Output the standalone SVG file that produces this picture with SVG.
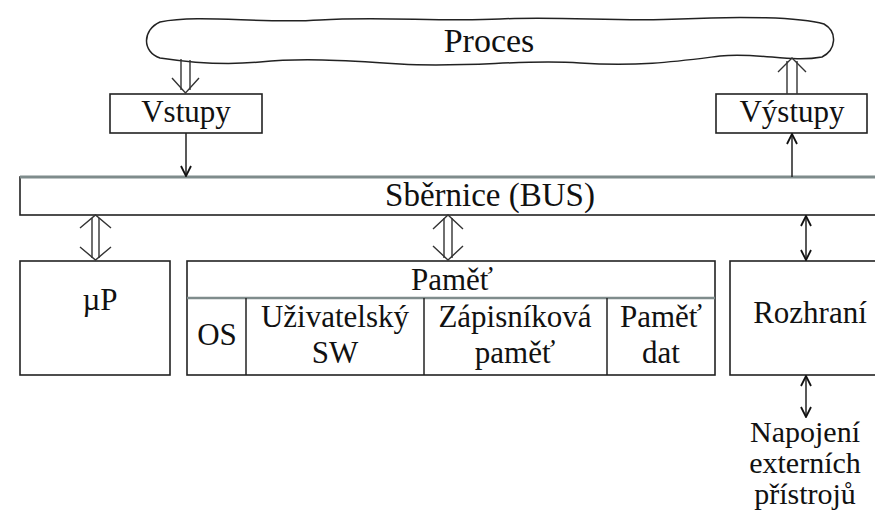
<svg xmlns="http://www.w3.org/2000/svg" width="875" height="515" viewBox="0 0 875 515">
<style>
.box{fill:#fff;stroke:#222;stroke-width:1.6}
.ln{fill:none;stroke:#222;stroke-width:1.5}
.hol{fill:none;stroke:#333;stroke-width:1.4}
</style>
<defs>
<marker id="ah" viewBox="0 0 12 12" refX="11" refY="6" markerWidth="12" markerHeight="12" markerUnits="userSpaceOnUse" orient="auto-start-reverse">
<path d="M1,1 L11,6 L1,11" fill="none" stroke="#111" stroke-width="1.8"/>
</marker>
</defs>
<rect width="875" height="515" fill="#fff"/>

<g id="proces">
<path class="ln" d="M160 22 C200 14,260 24,320 20 C380 16,440 22,500 19 C560 16,620 22,680 19 C740 16,800 17,824 24 C838 32,836 50,822 57 C790 63,760 52,720 56 C680 61,640 67,580 63 C520 59,470 68,400 64 C340 60,300 58,260 62 C220 66,180 61,160 58 C142 52,142 30,160 22 Z"/>
<text x="489" y="52" font-family="Times New Roman" font-size="34" text-anchor="middle" fill="#111">Proces</text>
</g>

<g id="vstupy">
<rect class="box" x="110" y="94" width="152" height="39"/>
<text x="186" y="122" font-family="Times New Roman" font-size="31" text-anchor="middle" fill="#111">Vstupy</text>
</g>

<g id="vystupy">
<rect class="box" x="716" y="94" width="151" height="39"/>
<text x="792" y="122" font-family="Times New Roman" font-size="31" text-anchor="middle" fill="#111">Výstupy</text>
</g>

<g id="bus">
<rect x="20" y="177" width="870" height="38" fill="#fff" stroke="#222" stroke-width="1.6"/>
<line x1="20" y1="177" x2="875" y2="177" stroke="#7f8c8c" stroke-width="3"/>
<text x="490" y="206" font-family="Times New Roman" font-size="33" text-anchor="middle" fill="#111">Sběrnice (BUS)</text>
</g>

<g id="up">
<rect class="box" x="20" y="261" width="150" height="114"/>
<text x="100" y="310" font-family="Times New Roman" font-size="31" text-anchor="middle" fill="#111">µP</text>
</g>

<g id="pamet">
<rect class="box" x="187" y="261" width="528" height="114"/>
<line x1="187" y1="298" x2="715" y2="298" stroke="#7f8c8c" stroke-width="2.5"/>
<line class="ln" x1="246" y1="298" x2="246" y2="375"/>
<line class="ln" x1="424" y1="298" x2="424" y2="375"/>
<line class="ln" x1="607" y1="298" x2="607" y2="375"/>
<text x="452" y="290" font-family="Times New Roman" font-size="31" text-anchor="middle" fill="#111">Paměť</text>
<text x="217" y="345" font-family="Times New Roman" font-size="31" text-anchor="middle" fill="#111">OS</text>
<text x="335" y="327" font-family="Times New Roman" font-size="31" text-anchor="middle" fill="#111">Uživatelský</text>
<text x="335" y="363" font-family="Times New Roman" font-size="31" text-anchor="middle" fill="#111">SW</text>
<text x="515" y="327" font-family="Times New Roman" font-size="31" text-anchor="middle" fill="#111">Zápisníková</text>
<text x="515" y="363" font-family="Times New Roman" font-size="31" text-anchor="middle" fill="#111">paměť</text>
<text x="661" y="327" font-family="Times New Roman" font-size="31" text-anchor="middle" fill="#111">Paměť</text>
<text x="661" y="363" font-family="Times New Roman" font-size="31" text-anchor="middle" fill="#111">dat</text>
</g>

<g id="rozhrani">
<rect class="box" x="730" y="261" width="160" height="114"/>
<text x="810" y="323" font-family="Times New Roman" font-size="31" text-anchor="middle" fill="#111">Rozhraní</text>
</g>

<g id="napojeni">
<text x="805" y="442" font-family="Times New Roman" font-size="30" text-anchor="middle" fill="#111">Napojení</text>
<text x="805" y="473" font-family="Times New Roman" font-size="30" text-anchor="middle" fill="#111">externích</text>
<text x="805" y="504" font-family="Times New Roman" font-size="30" text-anchor="middle" fill="#111">přístrojů</text>
</g>

<g id="connectors">
<line class="hol" x1="181" y1="59" x2="181" y2="90"/>
<line class="hol" x1="190" y1="60" x2="190" y2="90"/>
<path class="hol" d="M172 78 L185.5 93 L199 78"/>
<line class="ln" x1="186" y1="133" x2="186" y2="176" marker-end="url(#ah)"/>
<line class="ln" x1="792" y1="177" x2="792" y2="134" marker-end="url(#ah)"/>
<line class="hol" x1="787" y1="94" x2="787" y2="61"/>
<line class="hol" x1="797" y1="94" x2="797" y2="61"/>
<path class="hol" d="M778 72 L792 58 L806 72"/>
<line class="hol" x1="92" y1="218" x2="92" y2="258"/>
<line class="hol" x1="99" y1="218" x2="99" y2="258"/>
<path class="hol" d="M80 228 L95.5 215 L111 228"/>
<path class="hol" d="M80 247 L95.5 260 L111 247"/>
<line class="hol" x1="444" y1="218" x2="444" y2="258"/>
<line class="hol" x1="452" y1="218" x2="452" y2="258"/>
<path class="hol" d="M433 229 L448 215 L463 229"/>
<path class="hol" d="M433 246 L448 260 L463 246"/>
<line class="ln" x1="806" y1="216" x2="806" y2="260" marker-start="url(#ah)" marker-end="url(#ah)"/>
<line class="ln" x1="806" y1="376" x2="806" y2="417" marker-start="url(#ah)" marker-end="url(#ah)"/>
</g>
</svg>
